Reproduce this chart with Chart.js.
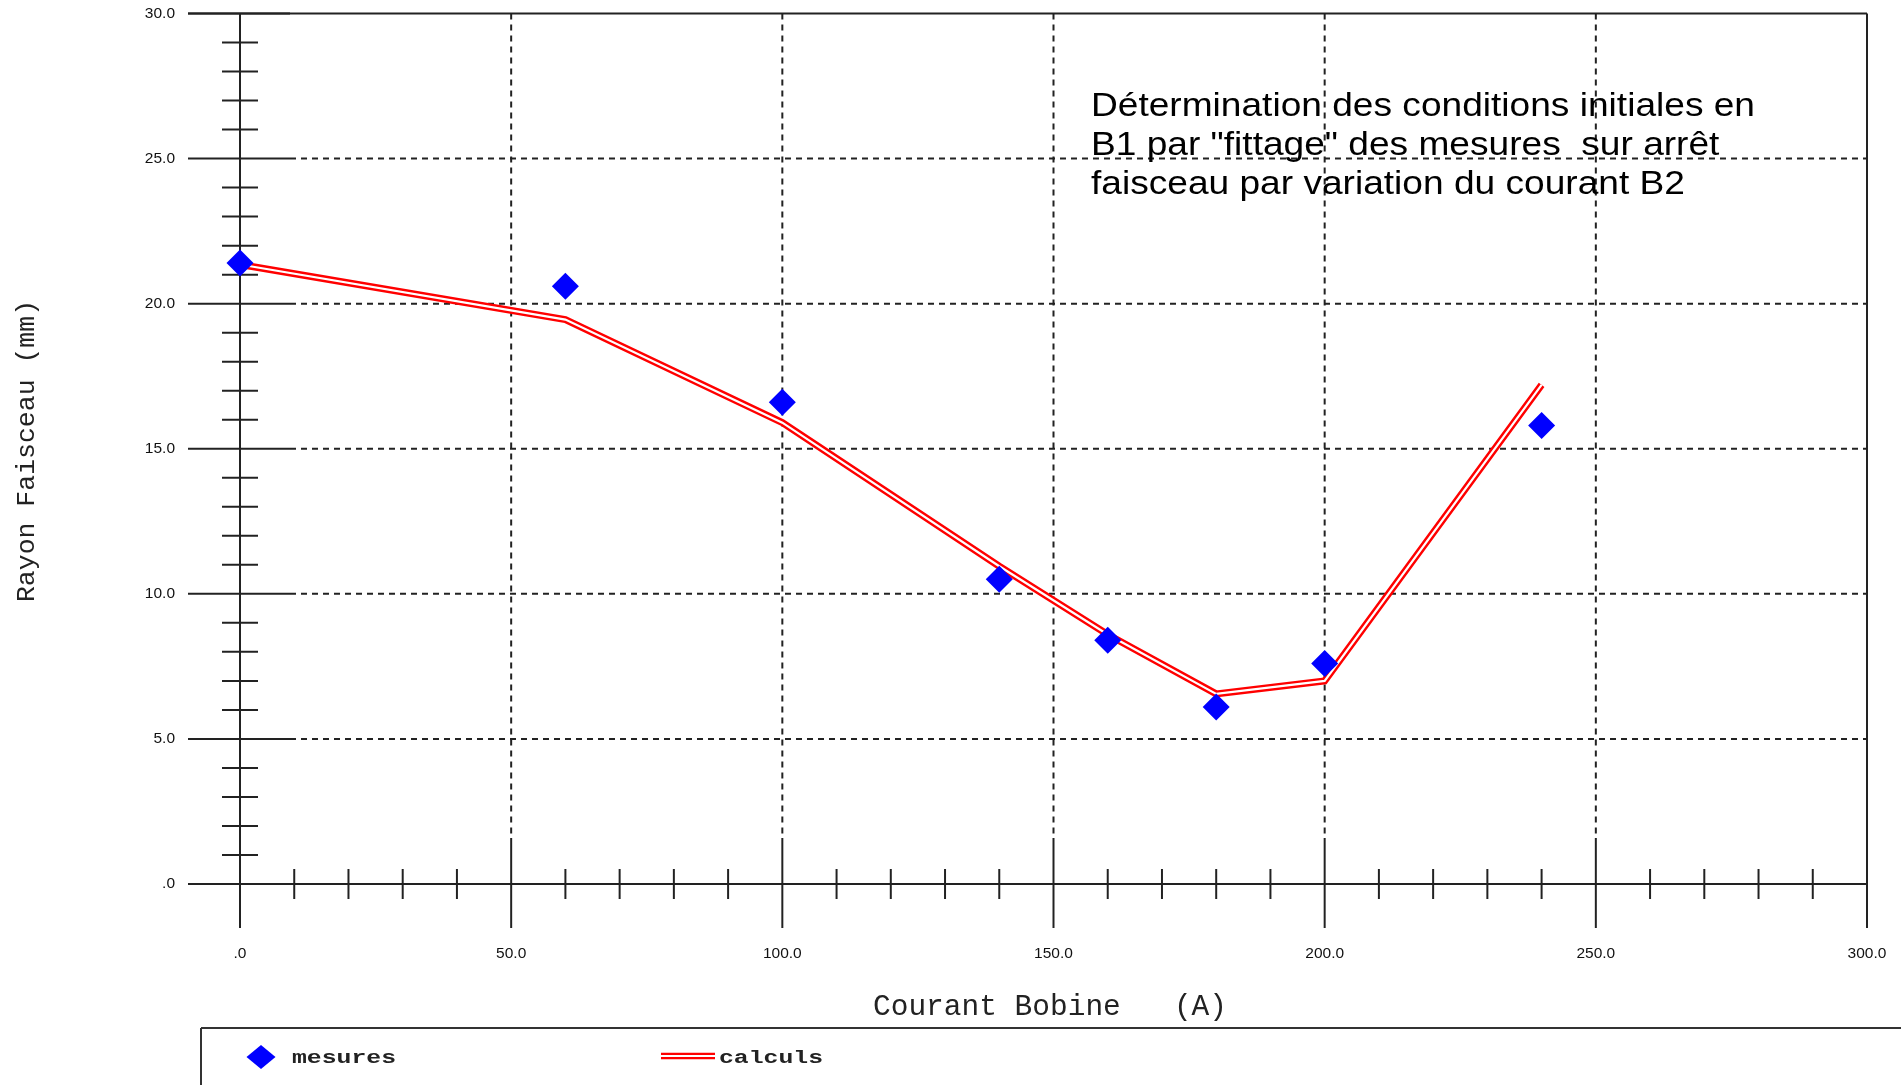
<!DOCTYPE html>
<html>
<head>
<meta charset="utf-8">
<script src="https://cdn.jsdelivr.net/npm/chart.js@4/dist/chart.umd.min.js"></script>
<style>
  html, body { margin: 0; padding: 0; background: #fff; }
  canvas { display: block; }
</style>
</head>
<body>
<canvas id="c" width="1901" height="1085"></canvas>
<script>
// measured points (blue diamonds)
const mesuresX = [0, 60, 100, 140, 160, 180, 200, 240];
const mesuresY = [21.4, 20.6, 16.6, 10.5, 8.4, 6.1, 7.6, 15.8];

// computed curve (red double line)
const calculsX = [0, 60, 100, 140, 160, 180, 200, 240];
const calculsY = [21.35, 19.45, 15.9, 10.95, 8.6, 6.55, 7.0, 17.2];

const xTicks = [0, 50, 100, 150, 200, 250, 300];
const xTickLabels = ['.0', '50.0', '100.0', '150.0', '200.0', '250.0', '300.0'];
const yTicks = [0, 5, 10, 15, 20, 25, 30];
const yTickLabels = ['.0', '5.0', '10.0', '15.0', '20.0', '25.0', '30.0'];
const xMinorStep = 10;
const yMinorStep = 1;

const xTitle = 'Courant Bobine   (A)';
const yTitle = 'Rayon Faisceau (mm)';
const noteLines = [
  'Détermination des conditions initiales en',
  'B1 par "fittage" des mesures  sur arrêt',
  'faisceau par variation du courant B2'
];
const legendLabels = ['mesures', 'calculs'];

const AXIS = '#222';
const MONO = '"Liberation Mono", "Courier New", monospace';
const SANS = '"Liberation Sans", Arial, sans-serif';

function pts(xs, ys) { return xs.map((x, i) => ({ x: x, y: ys[i] })); }

function line(ctx, x1, y1, x2, y2) {
  ctx.beginPath(); ctx.moveTo(x1, y1); ctx.lineTo(x2, y2); ctx.stroke();
}

// text squeezed/stretched horizontally to a given width
function fitText(ctx, t, x, y, w) {
  const s = w / ctx.measureText(t).width;
  ctx.save();
  ctx.translate(x, y);
  ctx.scale(s, 1);
  ctx.fillText(t, 0, 0);
  ctx.restore();
}

const framePlugin = {
  id: 'frame',
  beforeDatasetsDraw(chart) {
    const ctx = chart.ctx, xs = chart.scales.x, ys = chart.scales.y;
    const x0 = xs.getPixelForValue(0), y0 = ys.getPixelForValue(0);
    const right = xs.getPixelForValue(300), top = ys.getPixelForValue(30);
    ctx.save();
    ctx.strokeStyle = AXIS;
    ctx.lineWidth = 2;

    // dashed grid
    ctx.setLineDash([6, 5]);
    yTicks.forEach(v => {
      if (v === 0 || v === 30) return;
      const y = ys.getPixelForValue(v);
      line(ctx, x0 + 50, y, right, y);
    });
    xTicks.forEach(v => {
      if (v === 0 || v === 300) return;
      const x = xs.getPixelForValue(v);
      line(ctx, x, top, x, y0 - 46);
    });
    ctx.setLineDash([]);

    // axes and frame
    line(ctx, x0 - 52, y0, right, y0);
    line(ctx, x0, top, x0, y0 + 44);
    line(ctx, x0 - 52, top, right, top);
    line(ctx, right, top, right, y0);

    // y ticks
    for (let v = 0; v <= 30; v += yMinorStep) {
      const y = ys.getPixelForValue(v);
      if (yTicks.includes(v)) line(ctx, x0 - 52, y, x0 + 50, y);
      else line(ctx, x0 - 18, y, x0 + 18, y);
    }
    // x ticks
    for (let v = 0; v <= 300; v += xMinorStep) {
      const x = xs.getPixelForValue(v);
      if (xTicks.includes(v)) line(ctx, x, y0 - 46, x, y0 + 44);
      else line(ctx, x, y0 - 15, x, y0 + 15);
    }

    // tick labels
    ctx.fillStyle = '#111';
    ctx.font = '15.5px ' + SANS;
    ctx.textBaseline = 'middle';
    ctx.textAlign = 'right';
    yTicks.forEach((v, i) => ctx.fillText(yTickLabels[i], 175, ys.getPixelForValue(v)));
    ctx.textAlign = 'center';
    xTicks.forEach((v, i) => ctx.fillText(xTickLabels[i], xs.getPixelForValue(v), 954));
    ctx.restore();
  },
  afterDraw(chart) {
    const ctx = chart.ctx;
    ctx.save();
    ctx.fillStyle = '#222';

    // axis titles
    ctx.font = '29.5px ' + MONO;
    ctx.textAlign = 'center';
    ctx.textBaseline = 'alphabetic';
    ctx.fillText(xTitle, 1050, 1015);
    ctx.font = '26.5px ' + MONO;
    ctx.save();
    ctx.translate(34, 451);
    ctx.rotate(-Math.PI / 2);
    ctx.fillText(yTitle, 0, 0);
    ctx.restore();

    // annotation (condensed sans)
    ctx.fillStyle = '#000';
    ctx.font = '32.5px ' + SANS;
    ctx.textAlign = 'left';
    const sx = 664 / ctx.measureText(noteLines[0]).width;
    noteLines.forEach((t, i) => {
      ctx.save();
      ctx.translate(1091, 116 + i * 38.8);
      ctx.scale(sx, 1);
      ctx.fillText(t, 0, 0);
      ctx.restore();
    });

    // legend box
    ctx.strokeStyle = '#333';
    ctx.lineWidth = 2;
    line(ctx, 201, 1028, 1901, 1028);
    line(ctx, 201, 1028, 201, 1085);

    // legend: diamond
    ctx.fillStyle = '#0000ff';
    ctx.beginPath();
    ctx.moveTo(261, 1045); ctx.lineTo(275.5, 1057); ctx.lineTo(261, 1069); ctx.lineTo(246.5, 1057);
    ctx.closePath(); ctx.fill();
    // legend: double red line
    ctx.strokeStyle = '#ff0000';
    ctx.lineWidth = 6.5;
    line(ctx, 661, 1056, 715, 1056);
    ctx.strokeStyle = '#fff';
    ctx.lineWidth = 2;
    line(ctx, 661, 1056, 715, 1056);

    ctx.fillStyle = '#222';
    ctx.font = 'bold 19px ' + MONO;
    ctx.textBaseline = 'middle';
    fitText(ctx, legendLabels[0], 292, 1058, 104);
    fitText(ctx, legendLabels[1], 719, 1058, 104);
    ctx.restore();
  }
};

new Chart(document.getElementById('c'), {
  type: 'scatter',
  data: {
    datasets: [
      {
        label: legendLabels[0],
        data: pts(mesuresX, mesuresY),
        pointStyle: 'rectRot',
        pointRadius: 13.5,
        backgroundColor: '#0000ff',
        borderColor: '#0000ff',
        borderWidth: 0,
        showLine: false,
        clip: false,
        order: 0
      },
      {
        label: legendLabels[1] + ' (inner)',
        data: pts(calculsX, calculsY),
        showLine: true,
        borderColor: '#ffffff',
        borderWidth: 2.2,
        pointRadius: 0,
        clip: false,
        order: 1
      },
      {
        label: legendLabels[1],
        data: pts(calculsX, calculsY),
        showLine: true,
        borderColor: '#ff0000',
        borderWidth: 7,
        pointRadius: 0,
        clip: false,
        order: 2
      }
    ]
  },
  options: {
    responsive: false,
    animation: false,
    layout: { padding: { left: 240, right: 34, top: 13, bottom: 201 } },
    scales: {
      x: { type: 'linear', min: 0, max: 300, display: false },
      y: { type: 'linear', min: 0, max: 30, display: false }
    },
    plugins: { legend: { display: false }, tooltip: { enabled: false } }
  },
  plugins: [framePlugin]
});
</script>
</body>
</html>
